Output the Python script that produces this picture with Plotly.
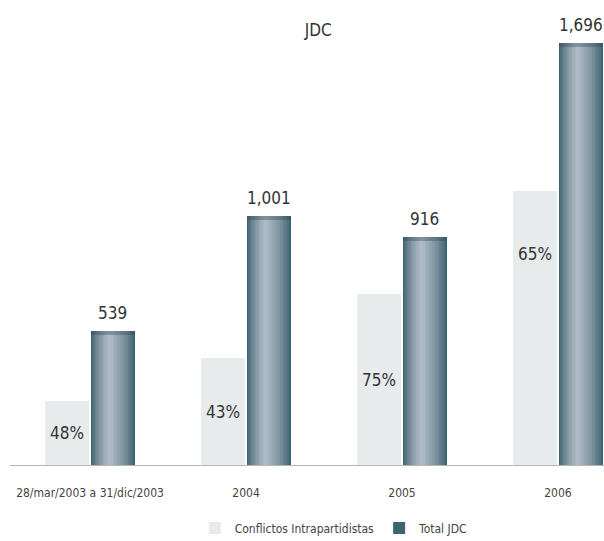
import plotly.graph_objects as go

categories = ["28/mar/2003 a 31/dic/2003", "2004", "2005", "2006"]
total_jdc = [539, 1001, 916, 1696]
conflictos = [259, 430, 687, 1102]
pct_labels = ["48%", "43%", "75%", "65%"]
total_labels = ["539", "1,001", "916", "1,696"]

# style: where the % label sits inside the light bar (fraction of bar height)
pct_label_frac = [0.5, 0.5, 0.5, 0.77]

FONT = "DejaVu Sans Condensed, Liberation Sans Narrow, sans-serif"
BAR_W = 0.282
LIGHT_OFF = -0.288
DARK_OFF = 0.006
PX_PER_CAT = 156

# nested layers imitating the cylindrical shading of the dark bars
edge_rgb = (60, 97, 109)
mid_rgb = (176, 187, 198)
n_layers = 14
centre = 0.42
layers = []
for k in range(n_layers):
    t = k / (n_layers - 1)
    half_l = centre * (1 - t) + 0.03 * t
    half_r = (1 - centre) * (1 - t) + 0.03 * t
    col = tuple(round(e + (m - e) * (t ** 0.7)) for e, m in zip(edge_rgb, mid_rgb))
    layers.append((centre - half_l, half_l + half_r, "rgb(%d,%d,%d)" % col))

fig = go.Figure()

fig.add_trace(go.Bar(
    x=categories, y=conflictos, name="Conflictos Intrapartidistas",
    marker=dict(color="#e7ebeb", line=dict(width=0)),
    width=BAR_W, offset=LIGHT_OFF, hoverinfo="skip",
))

for i, (off, wf, col) in enumerate(layers):
    fig.add_trace(go.Bar(
        x=categories, y=total_jdc, name="Total JDC",
        marker=dict(color=col if i else "#3e6470", line=dict(width=0)),
        width=BAR_W * wf, offset=DARK_OFF + BAR_W * off,
        showlegend=(i == 0), hoverinfo="skip",
    ))

# darker cap band at the top of each dark bar
CAP = 14
fig.add_trace(go.Bar(
    x=categories, y=[CAP] * len(categories), base=[v - CAP for v in total_jdc],
    marker=dict(color="rgba(40,70,80,0.35)", line=dict(width=0)),
    width=BAR_W, offset=DARK_OFF, showlegend=False, hoverinfo="skip",
))

annotations = []
for i, cat in enumerate(categories):
    annotations.append(dict(
        x=i, y=total_jdc[i], xref="x", yref="y", text=total_labels[i],
        showarrow=False, yanchor="bottom", yshift=6,
        xshift=(DARK_OFF + BAR_W / 2) * PX_PER_CAT,
        font=dict(family=FONT, size=17, color="#333333"),
    ))
    annotations.append(dict(
        x=i, y=conflictos[i] * pct_label_frac[i], xref="x", yref="y",
        text=pct_labels[i], showarrow=False, yanchor="middle",
        xshift=(LIGHT_OFF + BAR_W / 2) * PX_PER_CAT,
        font=dict(family=FONT, size=17, color="#333333"),
    ))

fig.update_layout(
    width=604, height=541,
    barmode="overlay",
    bargap=0, bargroupgap=0,
    paper_bgcolor="white", plot_bgcolor="white",
    margin=dict(l=10, r=0, t=30, b=76, autoexpand=False),
    title=dict(text="JDC", x=0.527, xanchor="center", y=0.945, yanchor="middle",
               font=dict(family=FONT, size=17, color="#333333")),
    xaxis=dict(range=[-0.513, 3.295], showline=True, linecolor="#b5b5b5",
               linewidth=1, ticks="", showgrid=False, automargin=False,
               ticklabelstandoff=17,
               tickfont=dict(family=FONT, size=12, color="#444444")),
    yaxis=dict(range=[0, 1750], visible=False, showgrid=False, automargin=False),
    legend=dict(orientation="h", x=0.545, xanchor="center", y=-0.145, yanchor="middle",
                font=dict(family=FONT, size=12, color="#444444"),
                itemwidth=30, traceorder="normal"),
    annotations=annotations,
    showlegend=True,
)

fig.write_html("out.html", config={"displayModeBar": False},
               post_script="document.body.style.margin='0';")
